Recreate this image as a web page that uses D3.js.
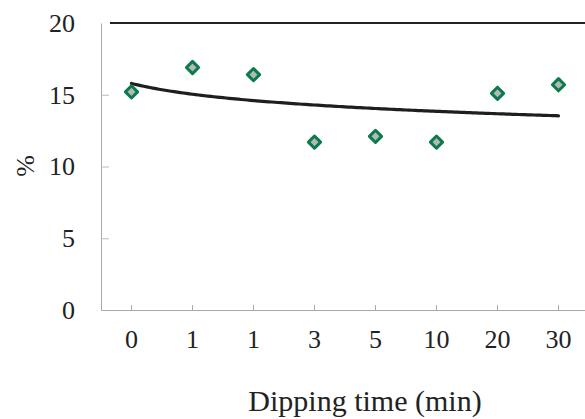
<!DOCTYPE html>
<html>
<head>
<meta charset="utf-8">
<script src="https://cdn.jsdelivr.net/npm/d3@7"></script>
<style>
  html, body { margin: 0; padding: 0; background: #fff; }
  svg { display: block; }
  svg text { font-family: "Liberation Serif", "Tinos", "Times New Roman", serif; }
</style>
</head>
<body>
<svg id="chart" width="585" height="419" font-family="Liberation Serif"></svg>
<script>
// Dipping time categories (min) and measured values (%)
const categories = ["0", "1", "1", "3", "5", "10", "20", "30"];
const values = [15.2, 16.9, 16.4, 11.7, 12.1, 11.7, 15.1, 15.7];
const yTicks = [0, 5, 10, 15, 20];
const xTitle = "Dipping time (min)";
const yTitle = "%";

const FONT = "Liberation Serif";
const svg = d3.select("#chart");
const plotLeft = 101, plotRight = 589, plotTop = 23, plotBottom = 310;

const x = d3.scaleBand()
  .domain(d3.range(categories.length))
  .range([plotLeft, plotRight]);
const y = d3.scaleLinear().domain([0, 20]).range([plotBottom, plotTop]);
const cx = i => x(i) + x.bandwidth() / 2;

// Top frame line
svg.append("line")
  .attr("x1", 110).attr("x2", 585)
  .attr("y1", y(20)).attr("y2", y(20))
  .attr("stroke", "#222").attr("stroke-width", 2);

// Y axis
const yAxis = svg.append("g")
  .attr("transform", `translate(${plotLeft},0)`)
  .call(d3.axisLeft(y).tickValues(yTicks).tickSizeInner(-8).tickSizeOuter(0).tickPadding(26))
  .attr("font-family", FONT).attr("font-size", 26);
yAxis.select(".domain").attr("stroke", "#aaa").attr("stroke-width", 1);
yAxis.selectAll(".tick line").attr("stroke", "#bbb");
yAxis.selectAll(".tick text").attr("fill", "#222");
yAxis.selectAll(".tick").filter(d => d === 20).select("line").remove();

// X axis
const xAxis = svg.append("g")
  .attr("transform", `translate(0,${plotBottom})`)
  .call(d3.axisBottom(x).tickFormat(i => categories[i]).tickSizeInner(-5).tickSizeOuter(0).tickPadding(20))
  .attr("font-family", FONT).attr("font-size", 26);
xAxis.select(".domain").attr("stroke", "#aaa").attr("stroke-width", 1);
xAxis.selectAll(".tick line").attr("stroke", "#aaa");
xAxis.selectAll(".tick text").attr("fill", "#222");

// Logarithmic trend line fitted to the measured values (x = 1..n)
const lx = values.map((_, i) => Math.log(i + 1));
const mx = d3.mean(lx), my = d3.mean(values);
const slope = d3.sum(lx, (v, i) => (v - mx) * (values[i] - my)) / d3.sum(lx, v => (v - mx) ** 2);
const intercept = my - slope * mx;
const trendPts = d3.range(0, categories.length - 1 + 1e-9, 0.05)
  .map(t => [cx(0) + t * x.step(), intercept + slope * Math.log(t + 1)]);
svg.append("path")
  .attr("d", d3.line().x(d => d[0]).y(d => y(d[1]))(trendPts))
  .attr("fill", "none").attr("stroke", "#1e1e1e").attr("stroke-width", 3.2)
  .attr("stroke-linecap", "round");

// Diamond markers
const diamond = d3.symbol().type(d3.symbolDiamond2).size(95);
svg.append("g").selectAll("path")
  .data(values)
  .join("path")
  .attr("transform", (d, i) => `translate(${cx(i)},${y(d)})`)
  .attr("d", diamond)
  .attr("fill", "#b4b8b6")
  .attr("stroke", "#0b7a4c")
  .attr("stroke-width", 3)
  .attr("stroke-linejoin", "round");

// Axis titles
svg.append("text")
  .attr("x", 365).attr("y", 411)
  .attr("text-anchor", "middle")
  .attr("fill", "#222")
  .attr("font-family", FONT).attr("font-size", 30)
  .text(xTitle);
svg.append("text")
  .attr("transform", `translate(34,166) rotate(-90)`)
  .attr("text-anchor", "middle")
  .attr("fill", "#222")
  .attr("font-family", FONT).attr("font-size", 26)
  .text(yTitle);
</script>
</body>
</html>
